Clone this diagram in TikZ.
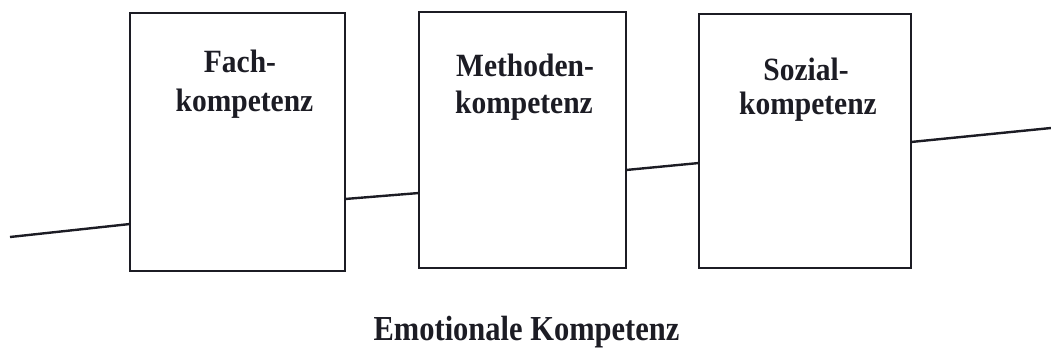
\documentclass[tikz,border=0pt]{standalone}
\usepackage{fontspec}
\setmainfont{Liberation Serif}
\usetikzlibrary{calc}
\definecolor{ink}{HTML}{1C1C24}
\newcommand{\tallertext}[2]{\scalebox{1}[#1]{#2}}
\begin{document}
\begin{tikzpicture}[x=1pt,y=1pt,
  kbox/.style={draw=ink,line width=2.5pt,inner sep=0pt,outer sep=0pt},
  lbl/.style={anchor=base,inner sep=0pt,text=ink,font=\fontsize{29.5}{39}\selectfont\bfseries},
  big/.style={anchor=base,inner sep=0pt,text=ink,font=\fontsize{30.5}{36}\selectfont\bfseries},
  conn/.style={draw=ink,line width=2.4pt}]
\useasboundingbox (0,0) rectangle (1051,362);
\node[kbox,minimum width=215pt,minimum height=258pt] (b1) at (237.5,220) {};
\node[kbox,minimum width=207pt,minimum height=256pt] (b2) at (522.5,222) {};
\node[kbox,minimum width=212pt,minimum height=254pt] (b3) at (805,221) {};
\node[lbl] (t1a) at (240,289) {\tallertext{1.1}{Fach-}};
\node[lbl] (t1b) at (244.5,250) {\tallertext{1.1}{kompetenz}};
\node[lbl] (t2a) at (525,285) {\tallertext{1.1}{Methoden-}};
\node[lbl] (t2b) at (524,248) {\tallertext{1.1}{kompetenz}};
\node[lbl] (t3a) at (806,281) {\tallertext{1.1}{Sozial-}};
\node[lbl] (t3b) at (808,247) {\tallertext{1.1}{kompetenz}};
\node[big] (ek) at (526.5,22) {\tallertext{1.15}{Emotionale Kompetenz}};
\coordinate (L) at (10,125);
\coordinate (R) at (1051,234);
\draw[conn] (L) -- ($(b1.west)+(0,-82)$);
\draw[conn] ($(b1.east)+(0,-57)$) -- ($(b2.west)+(0,-53)$);
\draw[conn] ($(b2.east)+(0,-30)$) -- ($(b3.west)+(0,-22)$);
\draw[conn] ($(b3.east)+(0,-1)$) -- (R);
\end{tikzpicture}
\end{document}
